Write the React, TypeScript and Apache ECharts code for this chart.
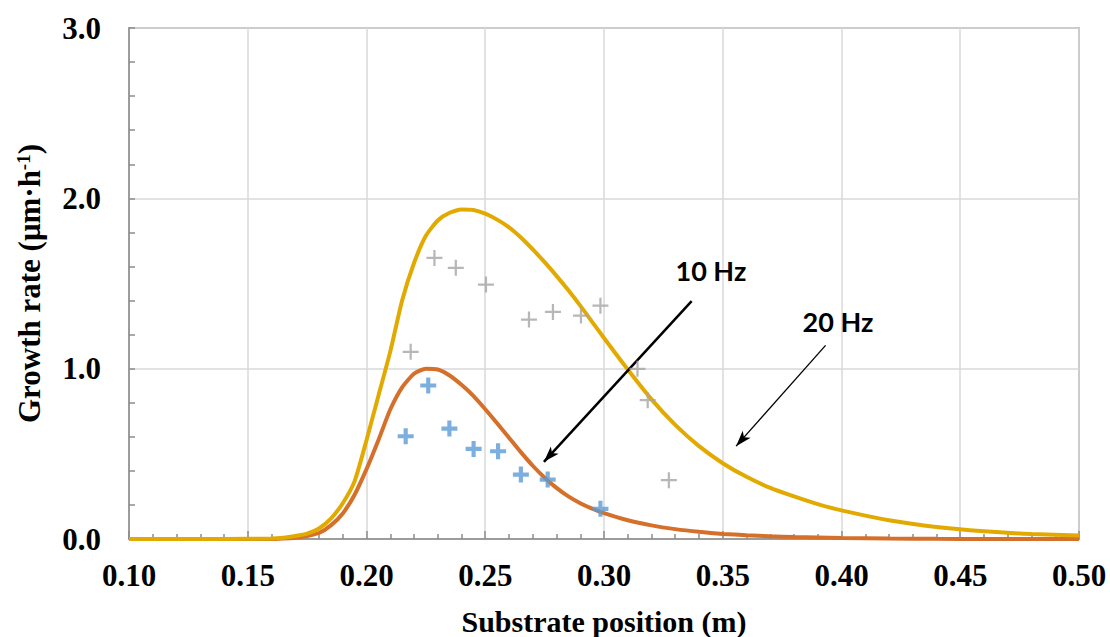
import React, { useEffect, useRef } from "react";
import * as echarts from "echarts";

const xPos = [0.10, 0.12, 0.14, 0.16, 0.165, 0.17, 0.175, 0.18, 0.185, 0.19, 0.195, 0.20, 0.205, 0.21, 0.215, 0.22, 0.225, 0.23, 0.235, 0.24, 0.245, 0.25, 0.255, 0.26, 0.265, 0.27, 0.275, 0.28, 0.285, 0.29, 0.295, 0.30, 0.31, 0.32, 0.33, 0.34, 0.35, 0.36, 0.37, 0.38, 0.39, 0.40, 0.42, 0.44, 0.46, 0.48, 0.50];
const model20Hz = [0, 0, 0, 0.003, 0.008, 0.018, 0.032, 0.062, 0.12, 0.21, 0.34, 0.58, 0.84, 1.10, 1.40, 1.62, 1.78, 1.87, 1.915, 1.935, 1.932, 1.91, 1.875, 1.83, 1.77, 1.70, 1.625, 1.545, 1.46, 1.37, 1.275, 1.18, 0.995, 0.82, 0.67, 0.545, 0.445, 0.365, 0.30, 0.25, 0.205, 0.168, 0.11, 0.07, 0.045, 0.029, 0.02];
const model10Hz = [0, 0, 0, 0, 0.003, 0.008, 0.018, 0.035, 0.08, 0.15, 0.26, 0.41, 0.58, 0.76, 0.89, 0.97, 1.0, 0.995, 0.96, 0.905, 0.84, 0.762, 0.68, 0.595, 0.51, 0.43, 0.36, 0.30, 0.25, 0.21, 0.178, 0.152, 0.11, 0.08, 0.058, 0.042, 0.03, 0.022, 0.016, 0.012, 0.009, 0.006, 0.003, 0.001, 0, 0, 0];

const exp10HzX = [0.2165, 0.226, 0.2349, 0.2451, 0.2554, 0.265, 0.2763, 0.2985];
const exp10HzY = [0.603, 0.901, 0.648, 0.529, 0.515, 0.378, 0.349, 0.177];
const exp20HzX = [0.2186, 0.2286, 0.2376, 0.2503, 0.2684, 0.2785, 0.2903, 0.2985, 0.3141, 0.3184, 0.3273];
const exp20HzY = [1.099, 1.650, 1.592, 1.494, 1.288, 1.333, 1.312, 1.370, 0.999, 0.815, 0.345];

const xTicks = ["0.10", "0.15", "0.20", "0.25", "0.30", "0.35", "0.40", "0.45", "0.50"];
const yTicks = ["0.0", "1.0", "2.0", "3.0"];

const zip = (a: number[], b: number[]) => a.map((v, i) => [v, b[i]]);

const boldPlus = "path://M37,0H63V37H100V63H63V100H37V63H0V37H37Z";
const thinPlus = "path://M43,0H57V43H100V57H57V100H43V57H0V43H43Z";

export default function App() {
  const ref = useRef<HTMLDivElement>(null);
  useEffect(() => {
    const chart = echarts.init(ref.current!, null, { renderer: "svg" });
    const serif = "'Liberation Serif', 'Times New Roman', serif";
    const axisGray = "#8c8c8c";
    chart.setOption({
      animation: false,
      grid: {
        left: 129, right: 31, top: 28, bottom: 98,
        outerBoundsMode: "none", containLabel: false,
        show: true, borderColor: axisGray, borderWidth: 1.5,
      },
      xAxis: {
        type: "value",
        min: 0.1,
        max: 0.5,
        interval: 0.05,
        name: "Substrate position (m)",
        nameLocation: "middle",
        nameGap: 67,
        nameTextStyle: { fontFamily: serif, fontWeight: "bold", fontSize: 30, lineHeight: 30, color: "#000" },
        axisLine: { show: true, lineStyle: { color: axisGray, width: 1.5 } },
        axisTick: { show: true, inside: true, length: 8, lineStyle: { color: axisGray, width: 1.5 } },
        minorTick: { show: true, splitNumber: 5, length: 5, lineStyle: { color: axisGray, width: 1.5 } },
        splitLine: { show: true, lineStyle: { color: "#d9d9d9", width: 1.5 } },
        axisLabel: {
          margin: 21,
          fontFamily: serif,
          fontWeight: "bold",
          fontSize: 31,
          color: "#000",
          formatter: (v: number) => xTicks.find((t) => Math.abs(parseFloat(t) - v) < 1e-6) ?? v.toFixed(2),
        },
      },
      yAxis: {
        type: "value",
        min: 0,
        max: 3,
        interval: 1,
        name: "Growth rate (μm·h{sup|-1})",
        nameLocation: "middle",
        nameGap: 84,
        nameTextStyle: {
          fontFamily: serif,
          fontWeight: "bold",
          fontSize: 31,
          color: "#000",
          rich: { sup: { fontFamily: serif, fontWeight: "bold", fontSize: 19, color: "#000", verticalAlign: "top", padding: [0, 0, 12, 0] } },
        },
        axisLine: { show: true, lineStyle: { color: axisGray, width: 1.5 } },
        axisTick: { show: true, inside: true, length: 6, lineStyle: { color: axisGray, width: 1.5 } },
        minorTick: { show: true, splitNumber: 5, length: 6, lineStyle: { color: axisGray, width: 1.5 } },
        splitLine: { show: true, lineStyle: { color: "#d9d9d9", width: 1.5 } },
        axisLabel: {
          margin: 28,
          fontFamily: serif,
          fontWeight: "bold",
          fontSize: 31,
          color: "#000",
          formatter: (v: number) => yTicks.find((t) => Math.abs(parseFloat(t) - v) < 1e-6) ?? v.toFixed(1),
        },
      },
      series: [
        {
          name: "Model 10 Hz",
          type: "line",
          data: zip(xPos, model10Hz),
          showSymbol: false,
          smooth: 0.2,
          lineStyle: { color: "#d5702b", width: 4 },
          z: 3,
        },
        {
          name: "Model 20 Hz",
          type: "line",
          data: zip(xPos, model20Hz),
          showSymbol: false,
          smooth: 0.2,
          lineStyle: { color: "#e2aa00", width: 4 },
          z: 4,
          markLine: {
            silent: true,
            symbol: ["none", "arrow"],
            label: { show: false },
            data: [
              [
                { coord: [0.3369, 1.396], lineStyle: { color: "#000", width: 2.5, type: "solid" }, symbolSize: [15, 17] },
                { coord: [0.2747, 0.453] },
              ],
              [
                { coord: [0.3933, 1.137], lineStyle: { color: "#000", width: 1.3, type: "solid" }, symbolSize: [13, 16] },
                { coord: [0.3556, 0.545] },
              ],
            ],
          },
          markPoint: {
            silent: true,
            symbol: "circle",
            symbolSize: 0,
            label: { show: true, position: "inside", fontFamily: "Lato, 'Open Sans', sans-serif", fontWeight: "bold", fontSize: 27, color: "#000" },
            data: [
              { coord: [0.345, 1.576], label: { formatter: "10 Hz" } },
              { coord: [0.3985, 1.276], label: { formatter: "20 Hz" } },
            ],
          },
        },
        {
          name: "Exp 20 Hz",
          type: "scatter",
          data: zip(exp20HzX, exp20HzY),
          symbol: thinPlus,
          symbolSize: 16,
          itemStyle: { color: "#a5a5a5" },
          z: 5,
        },
        {
          name: "Exp 10 Hz",
          type: "scatter",
          data: zip(exp10HzX, exp10HzY),
          symbol: boldPlus,
          symbolSize: 16,
          itemStyle: { color: "#5b9bd5" },
          z: 6,
        },
      ],
    });
    return () => chart.dispose();
  }, []);
  return <div ref={ref} style={{ width: 1110, height: 637, position: "absolute", left: 0, top: 0 }} />;
}
